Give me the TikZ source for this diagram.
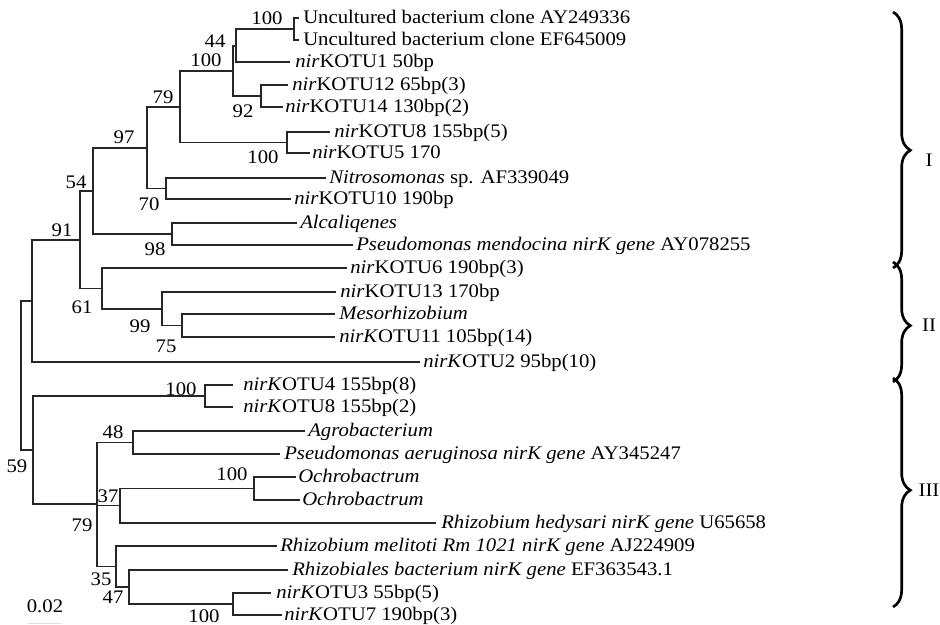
\documentclass[tikz,border=0pt]{standalone}
\usepackage{fontspec}
\setmainfont{Liberation Serif}[FakeStretch=1.08]
\usetikzlibrary{decorations.pathreplacing}
\begin{document}
\begin{tikzpicture}[x=0.75pt,y=-0.75pt,
  br/.style={line width=0.8pt, black!85},
  leaf/.style={anchor=base west, inner sep=0pt, font=\fontsize{14.4pt}{16pt}\selectfont},
  bs/.style={anchor=center, inner sep=0pt, font=\fontsize{14.4pt}{16pt}\selectfont},
  clade/.style={line width=2pt, decorate, decoration={brace, amplitude=13pt, aspect=#1}},
  ]
\useasboundingbox (0,0) rectangle (940,625);
% internal nodes
\coordinate (nA) at (294,29);
\coordinate (nB) at (236,46);
\coordinate (nD) at (261,96);
\coordinate (nC) at (233,71);
\coordinate (nF) at (287,142.5);
\coordinate (nE) at (180,107);
\coordinate (nH) at (166,188.5);
\coordinate (nG) at (147,148);
\coordinate (nI) at (172,234);
\coordinate (nJ) at (93,191);
\coordinate (nL) at (182,325.5);
\coordinate (nK) at (162,309);
\coordinate (nM) at (102,288.5);
\coordinate (nN) at (80,240);
\coordinate (nO) at (32,301);
\coordinate (nQ) at (205,396);
\coordinate (nS) at (133,442.5);
\coordinate (nW) at (254,488.5);
\coordinate (nU) at (120,505.5);
\coordinate (nY) at (233,604);
\coordinate (nX) at (129,587);
\coordinate (nV) at (116,566.5);
\coordinate (nR) at (97,504);
\coordinate (nP) at (33,450);
\coordinate (root) at (21,375.5);
% leaf ends
\coordinate (e1) at (299,18);
\coordinate (e2) at (299,40);
\coordinate (e3) at (290,62);
\coordinate (e4) at (288,85);
\coordinate (e5) at (283,107);
\coordinate (e6) at (330,132);
\coordinate (e7) at (310,153);
\coordinate (e8) at (326,178);
\coordinate (e9) at (291,199);
\coordinate (e10) at (297,223);
\coordinate (e11) at (353,245);
\coordinate (e12) at (347,268);
\coordinate (e13) at (336,292);
\coordinate (e14) at (335,314);
\coordinate (e15) at (335,337);
\coordinate (e16) at (420,362);
\coordinate (e17) at (233,385);
\coordinate (e18) at (233,407);
\coordinate (e19) at (305,431);
\coordinate (e20) at (280,454);
\coordinate (e21) at (296,477);
\coordinate (e22) at (300,500);
\coordinate (e23) at (436,523);
\coordinate (e24) at (277,546);
\coordinate (e25) at (288,570);
\coordinate (e26) at (271,593);
\coordinate (e27) at (282,615);
% branches
\draw[br] (nA) |- (e1); \draw[br] (nA) |- (e2);
\draw[br] (nB) |- (nA); \draw[br] (nB) |- (e3);
\draw[br] (nD) |- (e4); \draw[br] (nD) |- (e5);
\draw[br] (nC) |- (nB); \draw[br] (nC) |- (nD);
\draw[br] (nF) |- (e6); \draw[br] (nF) |- (e7);
\draw[br] (nE) |- (nC); \draw[br] (nE) |- (nF);
\draw[br] (nH) |- (e8); \draw[br] (nH) |- (e9);
\draw[br] (nG) |- (nE); \draw[br] (nG) |- (nH);
\draw[br] (nI) |- (e10); \draw[br] (nI) |- (e11);
\draw[br] (nJ) |- (nG); \draw[br] (nJ) |- (nI);
\draw[br] (nL) |- (e14); \draw[br] (nL) |- (e15);
\draw[br] (nK) |- (e13); \draw[br] (nK) |- (nL);
\draw[br] (nM) |- (e12); \draw[br] (nM) |- (nK);
\draw[br] (nN) |- (nJ); \draw[br] (nN) |- (nM);
\draw[br] (nO) |- (nN); \draw[br] (nO) |- (e16);
\draw[br] (nQ) |- (e17); \draw[br] (nQ) |- (e18);
\draw[br] (nS) |- (e19); \draw[br] (nS) |- (e20);
\draw[br] (nW) |- (e21); \draw[br] (nW) |- (e22);
\draw[br] (nU) |- (nW); \draw[br] (nU) |- (e23);
\draw[br] (nY) |- (e26); \draw[br] (nY) |- (e27);
\draw[br] (nX) |- (e25); \draw[br] (nX) |- (nY);
\draw[br] (nV) |- (e24); \draw[br] (nV) |- (nX);
\draw[br] (nR) |- (nS); \draw[br] (nR) |- (nU); \draw[br] (nR) |- (nV);
\draw[br] (nP) |- (nQ); \draw[br] (nP) |- (nR);
\draw[br] (root) |- (nO); \draw[br] (root) |- (nP);
% leaf labels
\node[leaf] (t1) at (303,23) {Uncultured bacterium clone AY249336};
\node[leaf] (t2) at (303,45) {Uncultured bacterium clone EF645009};
\node[leaf] (t3) at (295,67) {\textit{nir}KOTU1 50bp};
\node[leaf] (t4) at (292,90) {\textit{nir}KOTU12 65bp(3)};
\node[leaf] (t5) at (285,112) {\textit{nir}KOTU14 130bp(2)};
\node[leaf] (t6) at (334,137) {\textit{nir}KOTU8 155bp(5)};
\node[leaf] (t7) at (312,158) {\textit{nir}KOTU5 170};
\node[leaf] (t8) at (329,183) {\textit{Nitrosomonas} sp. AF339049};
\node[leaf] (t9) at (294,204) {\textit{nir}KOTU10 190bp};
\node[leaf] (t10) at (300,228) {\textit{Alcaliqenes}};
\node[leaf] (t11) at (356,250) {\textit{Pseudomonas mendocina nirK gene} AY078255};
\node[leaf] (t12) at (350,273) {\textit{nir}KOTU6 190bp(3)};
\node[leaf] (t13) at (340,297) {\textit{nir}KOTU13 170bp};
\node[leaf] (t14) at (339,319) {\textit{Mesorhizobium}};
\node[leaf] (t15) at (339,342) {\textit{nirK}OTU11 105bp(14)};
\node[leaf] (t16) at (423,367) {\textit{nirK}OTU2 95bp(10)};
\node[leaf] (t17) at (243,390) {\textit{nirK}OTU4 155bp(8)};
\node[leaf] (t18) at (243,412) {\textit{nirK}OTU8 155bp(2)};
\node[leaf] (t19) at (308,436) {\textit{Agrobacterium}};
\node[leaf] (t20) at (284,459) {\textit{Pseudomonas aeruginosa nirK gene} AY345247};
\node[leaf] (t21) at (298,482) {\textit{Ochrobactrum}};
\node[leaf] (t22) at (302,505) {\textit{Ochrobactrum}};
\node[leaf] (t23) at (441,528) {\textit{Rhizobium hedysari nirK gene} U65658};
\node[leaf] (t24) at (280,551) {\textit{Rhizobium melitoti Rm 1021 nirK gene} AJ224909};
\node[leaf] (t25) at (292,575) {\textit{Rhizobiales bacterium nirK gene} EF363543.1};
\node[leaf] (t26) at (276,598) {\textit{nirK}OTU3 55bp(5)};
\node[leaf] (t27) at (284,620) {\textit{nirK}OTU7 190bp(3)};
% bootstrap values
\node[bs] (bA) at (267,18) {100};
\node[bs] (bB) at (215,41) {44};
\node[bs] (bC) at (206,60) {100};
\node[bs] (bD) at (243,111) {92};
\node[bs] (bE) at (163,97) {79};
\node[bs] (bF) at (263,157) {100};
\node[bs] (bG) at (124,137) {97};
\node[bs] (bH) at (149,204) {70};
\node[bs] (bI) at (155,249) {98};
\node[bs] (bJ) at (76,182) {54};
\node[bs] (bK) at (140,326) {99};
\node[bs] (bL) at (166,346) {75};
\node[bs] (bM) at (82,307) {61};
\node[bs] (bN) at (62,230) {91};
\node[bs] (broot) at (17,466) {59};
\node[bs] (bQ) at (181,389) {100};
\node[bs] (bS) at (113,432) {48};
\node[bs] (bU) at (108,496) {37};
\node[bs] (bR) at (82,525) {79};
\node[bs] (bW) at (232,474) {100};
\node[bs] (bV) at (101,579) {35};
\node[bs] (bX) at (113,597) {47};
\node[bs] (bY) at (204,616) {100};
% scale
\node[bs] (sc) at (45,606) {0.02};
\coordinate (s1) at (28,623);
\coordinate (s2) at (62,623);
\draw[gray!25, line width=0.5pt] (s1) -- (s2);
% clade braces
\coordinate (c1a) at (893,12);
\coordinate (c1b) at (893,268);
\coordinate (c2a) at (893,262);
\coordinate (c2b) at (893,382);
\coordinate (c3a) at (893,378);
\coordinate (c3b) at (893,607);
\draw[clade=0.54] (c1a) -- (c1b);
\draw[clade=0.53] (c2a) -- (c2b);
\draw[clade=0.49] (c3a) -- (c3b);
\node[bs] (cI) at (929,160) {I};
\node[bs] (cII) at (929,325) {II};
\node[bs] (cIII) at (929,490) {III};
\end{tikzpicture}
\end{document}
